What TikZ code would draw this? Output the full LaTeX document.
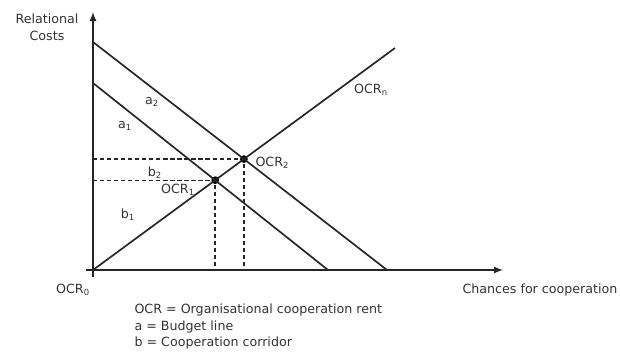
\documentclass[tikz,border=0pt]{standalone}
\usepackage{fontspec}
\setmainfont{DejaVu Sans}
\usepackage{tikz}

\begin{document}
\begin{tikzpicture}[x=0.025cm, y=-0.025cm, line width=1.2pt, draw=black!85, text=black!80,
    font=\fontsize{9}{12}\selectfont,
    dot/.style = {circle, fill=black, inner sep=0pt, minimum size=5.5pt},
    guide/.style = {dashed, dash pattern=on 3pt off 2pt, line width=1pt},
    axis/.style = {-latex}]
% pixel grid of the reference: origin top left, y downwards
\useasboundingbox (0,0) rectangle (620,351);
    \coordinate (O) at (93,270);
    \coordinate (ytop) at (93,12);
    \coordinate (ybot) at (93,277);
    \coordinate (xleft) at (86,270);
    \coordinate (xend) at (503,270);
    \coordinate (a2s) at (93,42);
    \coordinate (a2e) at (387,270);
    \coordinate (a1s) at (93,83);
    \coordinate (a1e) at (328,270);
    \coordinate (n) at (395,48);
    \node[dot] (ocr2) at (243.9,159.1) {};
    \node[dot] (ocr1) at (215.2,180.2) {};

\draw[axis] (ybot) -- (ytop);
\draw[axis] (xleft) -- (xend);
\draw (a2s) -- (a2e);
\draw (a1s) -- (a1e);
\draw (O) -- (n);
\draw[guide] (ocr2 -| O) -- (ocr2);
\draw[guide] (ocr1 -| O) -- (ocr1);
\draw[guide] (ocr2) -- (ocr2 |- O);
\draw[guide] (ocr1) -- (ocr1 |- O);

    \node[align=center] (yl) at (47,27) {Relational\\Costs};
    \node (xl) at (540,290) {Chances for cooperation};
    \node (a2) at (152,102) {a\textsubscript{2}};
    \node (a1) at (125,126) {a\textsubscript{1}};
    \node (b2) at (155,173) {b\textsubscript{2}};
    \node (b1) at (128,215) {b\textsubscript{1}};
    \node[anchor=west] (l2) at (250,163) {OCR\textsubscript{2}};
    \node (l1) at (178,190) {OCR\textsubscript{1}};
    \node (ln) at (371,90) {OCR\textsubscript{n}};
    \node (l0) at (73,290) {OCR\textsubscript{0}};
    \node[anchor=west] (k1) at (129,310) {OCR = Organisational cooperation rent};
    \node[anchor=west] (k2) at (129,327) {a = Budget line};
    \node[anchor=west] (k3) at (129,343) {b = Cooperation corridor};

\end{tikzpicture}
\end{document}
